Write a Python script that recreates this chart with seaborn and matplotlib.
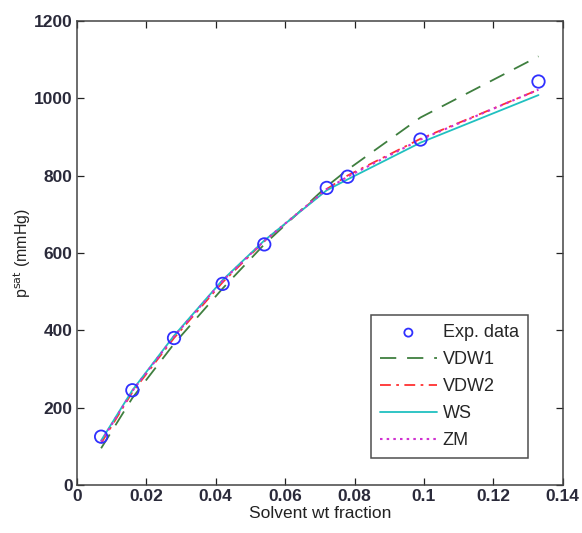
import numpy as np
import pandas as pd
import matplotlib
matplotlib.use("Agg")
import matplotlib.pyplot as plt
import seaborn as sns

# === Data ===
wt_frac = [0.007, 0.016, 0.028, 0.042, 0.054, 0.072, 0.078, 0.099, 0.133]
exp_psat = [125, 245, 380, 520, 622, 768, 797, 893, 1043]
vdw1 = [95, 225, 365, 508, 622, 772, 815, 950, 1108]
vdw2 = [108, 240, 380, 524, 630, 765, 800, 895, 1022]
ws = [115, 245, 386, 530, 632, 762, 790, 885, 1008]
zm = [112, 243, 384, 528, 631, 765, 797, 893, 1022]

# === Style ===
sns.set_theme(style="ticks")
plt.rcParams['font.family'] = ['Liberation Sans', 'DejaVu Sans']
plt.rcParams['xtick.direction'] = 'in'
plt.rcParams['ytick.direction'] = 'in'

fig = plt.figure(figsize=(5.82, 5.33), dpi=100)
ax = fig.add_axes([0.132, 0.09, 0.835, 0.871])

df = pd.DataFrame({'x': wt_frac, 'Exp': exp_psat, 'VDW1': vdw1,
                   'VDW2': vdw2, 'WS': ws, 'ZM': zm})

sns.scatterplot(data=df, x='x', y='Exp', ax=ax, marker='o', s=80,
                facecolor='none', edgecolor='#3030ff', linewidth=1.3,
                label='Exp. data', zorder=5)
sns.lineplot(data=df, x='x', y='VDW1', ax=ax, color='#3f7f3f', lw=1.3,
             label='VDW1').lines[-1].set_dashes([9, 6])
sns.lineplot(data=df, x='x', y='VDW2', ax=ax, color='#ff3030', lw=1.3,
             label='VDW2').lines[-1].set_dashes([6, 3, 1.5, 3])
sns.lineplot(data=df, x='x', y='WS', ax=ax, color='#20c0c0', lw=1.3, label='WS')
sns.lineplot(data=df, x='x', y='ZM', ax=ax, color='#d030d0', lw=1.5,
             label='ZM').lines[-1].set_dashes([1.2, 2])

ax.set_xlim(0, 0.14)
ax.set_ylim(0, 1200)
ax.set_xticks(np.arange(0, 0.141, 0.02))
ax.set_xticklabels(['0', '0.02', '0.04', '0.06', '0.08', '0.1', '0.12', '0.14'])
ax.set_yticks(np.arange(0, 1201, 200))
ax.tick_params(axis='both', labelsize=12.5, length=5, width=0.9,
               top=True, right=True, colors='#222222', pad=3)
for lbl in ax.get_xticklabels() + ax.get_yticklabels():
    lbl.set_fontweight('bold')
    lbl.set_color('#2a2a3a')
for spine in ax.spines.values():
    spine.set_color('#444444')
    spine.set_linewidth(1.1)
    spine.set_visible(True)

ax.set_xlabel("Solvent wt fraction", fontsize=12.5, labelpad=1, color='#222222')
ax.set_ylabel(r"p$^{\rm sat}$ (mmHg)", fontsize=11.5, labelpad=1, color='#222222')

leg = ax.legend(loc='lower right', bbox_to_anchor=(0.928, 0.058), fontsize=13,
                frameon=True, fancybox=False, edgecolor='#222222',
                handlelength=3.15, borderpad=0.5, labelspacing=0.55,
                handletextpad=0.33, borderaxespad=0, markerscale=0.65)
leg.get_frame().set_linewidth(1.1)

fig.savefig("out.png", dpi=100)
